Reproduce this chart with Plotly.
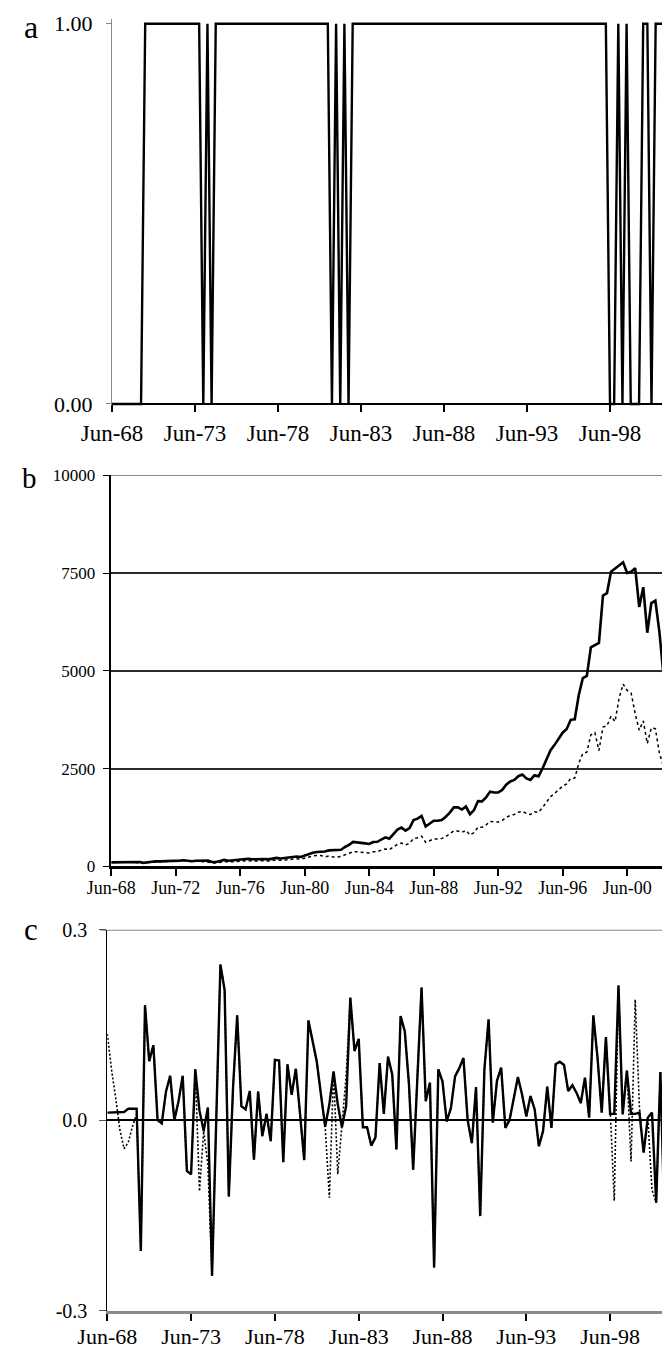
import pandas as pd
import plotly.graph_objects as go

# ---------------- data (quarterly, Jun-68 onward) ----------------
quarters = list(pd.date_range("1968-06-01", periods=139, freq="3MS").strftime("%b-%y"))

ticks_a = ["Jun-68", "Jun-73", "Jun-78", "Jun-83", "Jun-88", "Jun-93", "Jun-98"]
ticks_b = ["Jun-68", "Jun-72", "Jun-76", "Jun-80", "Jun-84", "Jun-88", "Jun-92", "Jun-96", "Jun-00"]
ticks_c = ["Jun-68", "Jun-73", "Jun-78", "Jun-83", "Jun-88", "Jun-93", "Jun-98"]

# panel a: position (1 = in stocks, 0 = in cash)
position = [0, 0, 0, 0, 0, 0, 0, 0, 1, 1,
            1, 1, 1, 1, 1, 1, 1, 1, 1, 1,
            1, 1, 0, 1, 0, 1, 1, 1, 1, 1,
            1, 1, 1, 1, 1, 1, 1, 1, 1, 1,
            1, 1, 1, 1, 1, 1, 1, 1, 1, 1,
            1, 1, 1, 0, 1, 0, 1, 0, 1, 1,
            1, 1, 1, 1, 1, 1, 1, 1, 1, 1,
            1, 1, 1, 1, 1, 1, 1, 1, 1, 1,
            1, 1, 1, 1, 1, 1, 1, 1, 1, 1,
            1, 1, 1, 1, 1, 1, 1, 1, 1, 1,
            1, 1, 1, 1, 1, 1, 1, 1, 1, 1,
            1, 1, 1, 1, 1, 1, 1, 1, 1, 1,
            0, 0, 1, 0, 1, 0, 0, 0, 1, 1,
            0, 1, 1, 1, 1, 0, 1, 1, 1]

# panel b: cumulative value of strategy (solid) and market (dotted)
wealth_strategy = [100, 101, 102, 104, 105, 107, 109, 111, 88, 104,
                   114, 127, 127, 127, 132, 141, 141, 146, 156, 143,
                   131, 142, 144, 141, 144, 109, 109, 136, 163, 144,
                   151, 176, 180, 183, 191, 179, 187, 183, 185, 178,
                   195, 214, 200, 217, 226, 244, 252, 238, 278, 316,
                   348, 365, 365, 378, 407, 417, 412, 421, 494, 548,
                   624, 617, 610, 586, 570, 621, 627, 690, 740, 706,
                   822, 937, 989, 912, 978, 1182, 1218, 1289, 1018, 1099,
                   1166, 1164, 1186, 1268, 1372, 1506, 1506, 1452, 1528, 1332,
                   1439, 1668, 1661, 1764, 1910, 1888, 1888, 1954, 2086, 2170,
                   2210, 2305, 2345, 2249, 2210, 2327, 2300, 2502, 2732, 2970,
                   3106, 3277, 3418, 3510, 3746, 3761, 4381, 4811, 4868, 5601,
                   5657, 5713, 6925, 6987, 7532, 7607, 7684, 7776, 7504, 7534,
                   7625, 6634, 7138, 5974, 6733, 6794, 6002, 4922, 5316]
wealth_market = [100, 113, 117, 115, 110, 106, 105, 106, 84, 99,
                 108, 121, 121, 120, 126, 134, 134, 138, 148, 136,
                 125, 135, 120, 118, 110, 83, 83, 103, 124, 109,
                 115, 134, 137, 139, 145, 136, 142, 139, 141, 135,
                 148, 163, 152, 165, 172, 185, 192, 181, 211, 240,
                 264, 277, 277, 243, 262, 240, 237, 254, 300, 329,
                 374, 370, 366, 352, 342, 373, 376, 414, 444, 424,
                 493, 562, 593, 547, 587, 709, 731, 773, 611, 659,
                 700, 698, 712, 761, 823, 904, 904, 871, 917, 799,
                 863, 1001, 997, 1058, 1146, 1133, 1133, 1172, 1252, 1302,
                 1326, 1383, 1407, 1349, 1326, 1396, 1380, 1501, 1639, 1782,
                 1864, 1966, 2051, 2106, 2248, 2257, 2629, 2887, 2921, 3361,
                 3420, 2960, 3560, 3596, 3840, 3700, 4300, 4660, 4500, 4430,
                 3900, 3480, 3720, 3140, 3540, 3520, 2900, 2560, 2740]

# panel c: quarterly returns of strategy (solid) and market (dotted)
return_strategy = [0.012, 0.012, 0.012, 0.013, 0.013, 0.018, 0.018, 0.018, -0.206, 0.181,
                   0.093, 0.118, 0.000, -0.005, 0.045, 0.070, 0.000, 0.030, 0.070, -0.080,
                   -0.085, 0.080, 0.015, -0.017, 0.020, -0.245, 0.000, 0.245, 0.205, -0.120,
                   0.050, 0.165, 0.022, 0.017, 0.046, -0.062, 0.045, -0.025, 0.010, -0.033,
                   0.095, 0.094, -0.066, 0.088, 0.040, 0.081, 0.010, -0.063, 0.157, 0.125,
                   0.092, 0.040, -0.010, 0.025, 0.077, 0.025, -0.011, 0.022, 0.193, 0.109,
                   0.128, -0.011, -0.011, -0.040, -0.027, 0.090, 0.010, 0.100, 0.072, -0.046,
                   0.164, 0.140, 0.056, -0.078, 0.072, 0.209, 0.030, 0.059, -0.232, 0.080,
                   0.061, -0.002, 0.019, 0.069, 0.082, 0.098, 0.000, -0.036, 0.052, -0.151,
                   0.080, 0.159, -0.004, 0.062, 0.083, -0.012, 0.000, 0.035, 0.068, 0.040,
                   0.006, 0.038, 0.017, -0.041, -0.017, 0.053, -0.012, 0.088, 0.092, 0.087,
                   0.046, 0.055, 0.043, 0.027, 0.067, 0.004, 0.165, 0.098, 0.012, 0.131,
                   0.010, 0.010, 0.212, 0.009, 0.078, 0.010, 0.010, 0.012, -0.051, 0.004,
                   0.012, -0.130, 0.076, -0.163, 0.127, 0.009, -0.138, -0.180, 0.080]
return_market = [0.136, 0.080, 0.035, -0.015, -0.045, -0.035, -0.010, 0.010, -0.206, 0.181,
                 0.093, 0.118, 0.000, -0.005, 0.045, 0.070, 0.000, 0.030, 0.070, -0.080,
                 -0.085, 0.080, -0.112, -0.017, -0.070, -0.245, 0.000, 0.245, 0.205, -0.120,
                 0.050, 0.165, 0.022, 0.017, 0.046, -0.062, 0.045, -0.025, 0.010, -0.033,
                 0.095, 0.094, -0.066, 0.088, 0.040, 0.081, 0.010, -0.063, 0.157, 0.125,
                 0.092, 0.040, -0.010, -0.122, 0.077, -0.085, -0.011, 0.070, 0.193, 0.109,
                 0.128, -0.011, -0.011, -0.040, -0.027, 0.090, 0.010, 0.100, 0.072, -0.046,
                 0.164, 0.140, 0.056, -0.078, 0.072, 0.209, 0.030, 0.059, -0.232, 0.080,
                 0.061, -0.002, 0.019, 0.069, 0.082, 0.098, 0.000, -0.036, 0.052, -0.151,
                 0.080, 0.159, -0.004, 0.062, 0.083, -0.012, 0.000, 0.035, 0.068, 0.040,
                 0.006, 0.038, 0.017, -0.041, -0.017, 0.053, -0.012, 0.088, 0.092, 0.087,
                 0.046, 0.055, 0.043, 0.027, 0.067, 0.004, 0.165, 0.098, 0.012, 0.131,
                 0.020, -0.127, 0.212, 0.010, 0.078, -0.065, 0.190, 0.020, -0.051, 0.004,
                 -0.110, -0.130, 0.076, -0.163, 0.127, -0.020, -0.138, -0.180, 0.080]

ticks_a_y = [0, 1]
ticks_a_ytext = ["0.00", "1.00"]
ticks_b_y = [0, 2500, 5000, 7500, 10000]
ticks_c_y = [-0.3, 0.0, 0.3]
ticks_c_ytext = ["-0.3", "0.0", "0.3"]

# ---------------- figure ----------------
W, H = 670, 1352
FONT = "Liberation Serif, Times New Roman, serif"


def px_x(p):
    return p / W


def px_y(p):
    return 1 - p / H


fig = go.Figure()

fig.add_trace(go.Scatter(x=quarters, y=position, mode="lines",
                         line=dict(color="black", width=2.4),
                         xaxis="x", yaxis="y", showlegend=False))

fig.add_trace(go.Scatter(x=quarters, y=wealth_market, mode="lines",
                         line=dict(color="black", width=1.5, dash="dot"),
                         xaxis="x2", yaxis="y2", showlegend=False))
fig.add_trace(go.Scatter(x=quarters, y=wealth_strategy, mode="lines",
                         line=dict(color="black", width=2.6),
                         xaxis="x2", yaxis="y2", showlegend=False))

fig.add_trace(go.Scatter(x=quarters, y=return_market, mode="lines",
                         line=dict(color="black", width=1.6, dash="2px,2px"),
                         xaxis="x3", yaxis="y3", showlegend=False))
fig.add_trace(go.Scatter(x=quarters, y=return_strategy, mode="lines",
                         line=dict(color="black", width=2.4),
                         xaxis="x3", yaxis="y3", showlegend=False))

# panel geometry (pixels)
a_x0, a_pq = 104.0, 4.15
b_x0, b_pq = 103.3, 4.03
c_x0, c_pq = 99.3, 4.19
a_top, a_bot = 15.7, 396.0
b_top, b_bot = 467.3, 858.3
c_top, c_bot = 921.7, 1302.7
pad = 0.012
a_ppu = a_bot - a_top

fig.update_layout(
    width=W, height=H,
    margin=dict(l=0, r=0, t=0, b=0),
    paper_bgcolor="white", plot_bgcolor="white",
    font=dict(family=FONT, color="black"),
    xaxis=dict(domain=[px_x(a_x0), 1], range=[0, (W - a_x0) / a_pq],
               anchor="free", position=px_y(a_bot),
               showline=True, linecolor="black", linewidth=2,
               ticks="outside", ticklen=7, tickwidth=1.5, tickcolor="black",
               tickvals=ticks_a, ticktext=ticks_a, tickfont=dict(size=23),
               ticklabelstandoff=1,
               showgrid=False, zeroline=False, automargin=False),
    yaxis=dict(domain=[px_y(a_bot + pad * a_ppu), px_y(a_top - pad * a_ppu)],
               range=[-pad, 1 + pad], anchor="x",
               showline=True, linecolor="#8a8a8a", linewidth=1,
               ticks="outside", ticklen=5, tickcolor="#8a8a8a",
               tickvals=ticks_a_y, ticktext=ticks_a_ytext, tickfont=dict(size=22),
               ticklabelstandoff=9,
               showgrid=False, zeroline=False, automargin=False),
    xaxis2=dict(domain=[px_x(b_x0), 1], range=[0, (W - b_x0) / b_pq],
                anchor="y2", showline=True, linecolor="black", linewidth=2.5,
                ticks="outside", ticklen=7, tickwidth=1.5, tickcolor="black",
                tickvals=ticks_b, ticktext=ticks_b, tickfont=dict(size=18),
                ticklabelstandoff=-4,
                showgrid=False, zeroline=False, automargin=False),
    yaxis2=dict(domain=[px_y(b_bot), px_y(b_top)], range=[0, 10000], anchor="x2",
                showline=True, linecolor="black", linewidth=1.5,
                ticks="outside", ticklen=7, tickcolor="black",
                tickvals=ticks_b_y, ticktext=[str(v) for v in ticks_b_y],
                tickfont=dict(size=17), ticklabelstandoff=4,
                showgrid=True, gridcolor="#2a2a2a", gridwidth=1.5,
                zeroline=False, automargin=False),
    xaxis3=dict(domain=[px_x(c_x0), 1], range=[0, (W - c_x0) / c_pq],
                anchor="y3", showline=True, linecolor="#8a8a8a", linewidth=3,
                ticks="outside", ticklen=7, tickwidth=1.5, tickcolor="black",
                tickvals=ticks_c, ticktext=ticks_c, tickfont=dict(size=22),
                ticklabelstandoff=-3,
                showgrid=False, zeroline=False, automargin=False),
    yaxis3=dict(domain=[px_y(c_bot), px_y(c_top)], range=[-0.3, 0.3], anchor="x3",
                showline=True, linecolor="black", linewidth=1,
                ticks="outside", ticklen=7, tickcolor="#555555",
                tickvals=ticks_c_y, ticktext=ticks_c_ytext, tickfont=dict(size=20),
                ticklabelstandoff=8,
                showgrid=True, gridcolor="#8a8a8a", gridwidth=2,
                zeroline=True, zerolinecolor="black", zerolinewidth=1.5,
                automargin=False),
)

# frame lines at the top edges of panels b and c (gridlines at range edge are not drawn)
fig.add_shape(type="line", xref="x2 domain", yref="y2", x0=-0.012, x1=1, y0=10000, y1=10000,
              line=dict(color="#666666", width=1.5), layer="below")
fig.add_shape(type="line", xref="x3 domain", yref="y3", x0=-0.012, x1=1, y0=0.3, y1=0.3,
              line=dict(color="#8a8a8a", width=2), layer="below")

# panel letters
fig.add_annotation(text="a", x=px_x(22.5), y=px_y(0.0), xref="paper", yref="paper",
                   xanchor="center", yanchor="top", showarrow=False, borderpad=0,
                   font=dict(family=FONT, size=32, color="black"))
for letter, cx, cy, size in [("b", 21.0, 470.0, 29), ("c", 22.5, 921.5, 31)]:
    fig.add_annotation(text=letter, x=px_x(cx), y=px_y(cy), xref="paper", yref="paper",
                       xanchor="center", yanchor="middle", showarrow=False,
                       font=dict(family=FONT, size=size, color="black"))

fig.write_html("out.html")
